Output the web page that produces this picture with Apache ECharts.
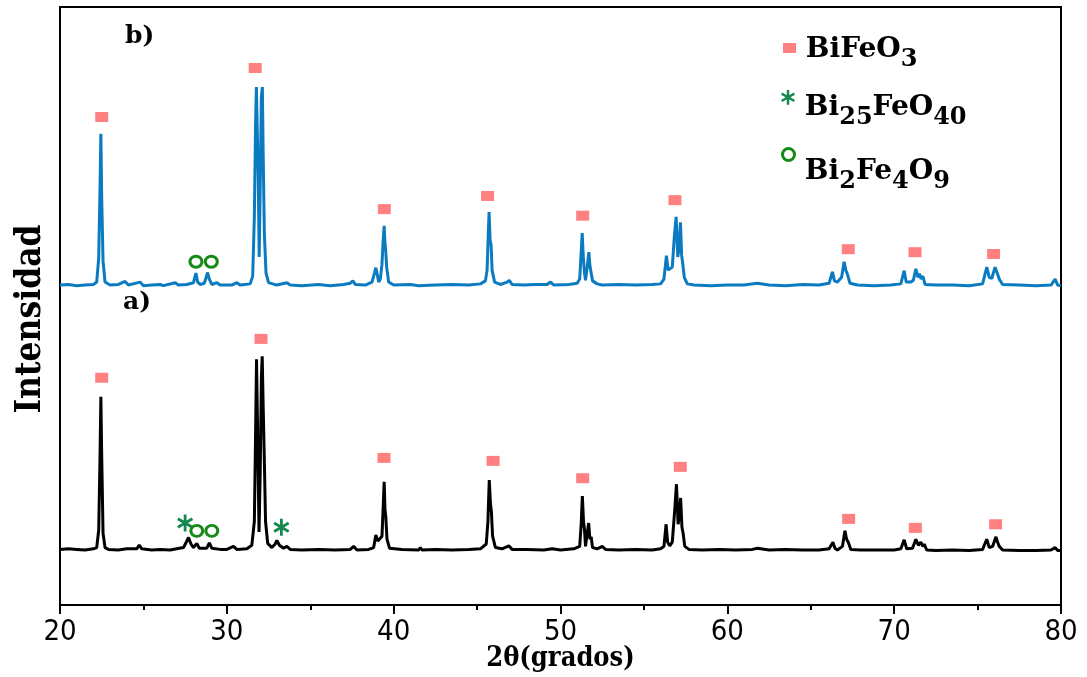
<!DOCTYPE html>
<html>
<head>
<meta charset="utf-8">
<title>DRX BiFeO3</title>
<script src="https://cdn.jsdelivr.net/npm/echarts@6/dist/echarts.min.js"></script>
<style>
  html, body { margin: 0; padding: 0; background: #fff; }
  #chart { width: 1087px; height: 677px; }
</style>
</head>
<body>
<div id="chart"></div>
<script>
// Diffraction pattern a): [2θ, intensity]
const patternA = [
  [20.0, 9.3], [20.5, 9.4], [21.0, 9.3], [21.5, 9.2], [22.0, 9.4], [22.2, 9.6],
  [22.32, 12.5], [22.4, 25.0], [22.45, 34.8], [22.5, 25.0], [22.58, 12.0], [22.7, 9.6],
  [22.9, 9.3], [23.5, 9.2], [24.0, 9.4], [24.6, 9.4], [24.75, 10.0], [24.9, 9.4],
  [25.5, 9.2], [26.0, 9.3], [26.6, 9.2], [27.0, 9.4], [27.4, 9.6], [27.55, 10.4],
  [27.7, 11.3], [27.85, 10.2], [28.0, 9.6], [28.2, 10.3], [28.35, 9.5], [28.8, 9.5],
  [28.95, 10.4], [29.1, 9.5], [29.6, 9.3], [30.0, 9.3], [30.4, 9.8], [30.6, 9.3],
  [31.2, 9.4], [31.5, 10.0], [31.65, 14.0], [31.72, 28.0], [31.78, 41.1], [31.85, 28.0],
  [31.93, 12.2], [32.0, 22.0], [32.07, 38.0], [32.12, 41.6], [32.18, 33.0], [32.24, 25.3],
  [32.32, 14.0], [32.45, 10.3], [32.7, 9.6], [32.9, 10.2], [33.0, 10.8], [33.15, 10.0],
  [33.4, 9.5], [33.6, 9.8], [33.8, 9.3], [34.5, 9.2], [35.5, 9.3], [36.5, 9.2],
  [37.4, 9.3], [37.6, 9.8], [37.8, 9.2], [38.5, 9.3], [38.8, 9.6], [38.93, 11.7],
  [39.05, 10.7], [39.15, 10.4], [39.3, 11.5], [39.38, 17.0], [39.43, 20.6], [39.48, 16.0],
  [39.53, 14.7], [39.6, 11.0], [39.75, 9.5], [40.5, 9.3], [41.5, 9.2], [41.6, 9.6],
  [41.7, 9.2], [42.5, 9.3], [43.5, 9.2], [44.5, 9.3], [45.2, 9.4], [45.55, 10.2],
  [45.65, 14.0], [45.73, 20.9], [45.8, 17.0], [45.86, 15.5], [45.93, 11.5], [46.1, 9.6],
  [46.5, 9.4], [46.9, 9.9], [47.1, 9.3], [48.0, 9.3], [49.0, 9.2], [49.5, 9.4],
  [50.0, 9.2], [50.8, 9.4], [51.15, 9.8], [51.24, 13.5], [51.31, 18.2], [51.38, 14.0],
  [51.44, 12.5], [51.5, 9.8], [51.6, 12.0], [51.69, 13.7], [51.76, 11.0], [51.84, 11.4],
  [51.92, 9.6], [52.2, 9.4], [52.5, 9.8], [52.7, 9.3], [53.5, 9.2], [54.5, 9.3],
  [55.5, 9.2], [56.0, 9.4], [56.2, 9.8], [56.33, 13.5], [56.42, 10.5], [56.55, 9.9],
  [56.7, 10.5], [56.85, 16.0], [56.95, 20.2], [57.05, 13.5], [57.12, 15.0], [57.2, 17.9],
  [57.28, 13.0], [57.35, 12.0], [57.45, 9.8], [57.7, 9.3], [58.5, 9.2], [59.5, 9.3],
  [60.5, 9.2], [61.5, 9.3], [61.8, 9.5], [62.5, 9.2], [63.5, 9.3], [64.5, 9.2],
  [65.5, 9.2], [66.1, 9.4], [66.33, 10.5], [66.45, 9.5], [66.6, 9.2], [66.9, 9.8],
  [67.05, 12.4], [67.15, 11.0], [67.25, 10.5], [67.4, 9.3], [68.0, 9.2], [69.0, 9.2],
  [70.0, 9.2], [70.4, 9.4], [70.6, 10.9], [70.75, 9.4], [71.1, 9.5], [71.3, 11.0],
  [71.45, 10.0], [71.6, 10.5], [71.72, 9.8], [71.8, 10.2], [71.95, 9.2], [72.5, 9.1],
  [73.5, 9.2], [74.5, 9.1], [75.3, 9.3], [75.55, 11.0], [75.7, 9.6], [75.9, 9.8],
  [76.1, 11.4], [76.2, 10.5], [76.3, 9.8], [76.5, 9.2], [77.5, 9.1], [78.5, 9.1],
  [79.4, 9.2], [79.65, 9.6], [79.8, 9.1], [80.0, 9.1]
];

// Diffraction pattern b): [2θ, intensity], stacked above a)
const patternB = [
  [20.0, 53.5], [20.5, 53.6], [21.0, 53.4], [21.5, 53.5], [22.0, 53.6], [22.2, 54.0],
  [22.32, 58.0], [22.4, 70.0], [22.45, 78.8], [22.5, 68.0], [22.58, 57.5], [22.7, 54.0],
  [23.0, 53.5], [23.5, 53.6], [23.9, 54.1], [24.1, 53.5], [24.8, 54.0], [25.0, 53.4],
  [25.5, 53.5], [26.0, 53.6], [26.2, 53.4], [26.9, 53.9], [27.1, 53.5], [27.6, 53.6],
  [28.0, 53.9], [28.15, 55.5], [28.25, 54.0], [28.4, 53.6], [28.65, 53.8], [28.85, 55.6],
  [28.95, 54.5], [29.1, 53.6], [29.4, 53.9], [29.6, 53.5], [30.3, 53.5], [30.6, 53.9],
  [30.8, 53.5], [31.4, 53.7], [31.55, 55.0], [31.65, 65.0], [31.72, 80.0], [31.77, 86.6],
  [31.83, 86.5], [31.88, 72.0], [31.94, 58.2], [32.0, 70.0], [32.07, 85.0], [32.13, 86.6],
  [32.18, 75.0], [32.25, 62.0], [32.35, 55.5], [32.5, 53.9], [33.0, 53.5], [33.6, 53.9],
  [33.8, 53.5], [34.5, 53.4], [35.5, 53.6], [36.2, 53.4], [37.0, 53.6], [37.4, 53.8],
  [37.55, 54.2], [37.7, 53.6], [38.3, 53.5], [38.7, 54.0], [38.85, 55.5], [38.93, 56.4],
  [39.0, 55.5], [39.1, 54.0], [39.2, 54.5], [39.3, 57.0], [39.37, 61.0], [39.43, 63.4],
  [39.48, 60.5], [39.52, 59.4], [39.58, 56.5], [39.7, 54.0], [40.0, 53.5], [41.0, 53.6],
  [41.5, 53.4], [42.5, 53.5], [43.5, 53.6], [44.5, 53.5], [45.2, 53.7], [45.5, 54.2],
  [45.6, 56.0], [45.67, 62.0], [45.72, 65.7], [45.78, 61.0], [45.84, 60.2], [45.9, 56.0],
  [46.05, 54.0], [46.4, 53.6], [46.8, 54.0], [46.93, 54.3], [47.1, 53.6], [47.8, 53.5],
  [48.5, 53.6], [49.2, 53.6], [49.4, 54.0], [49.6, 53.5], [50.5, 53.6], [51.0, 53.8],
  [51.15, 54.5], [51.24, 59.0], [51.3, 62.2], [51.37, 58.0], [51.44, 55.5], [51.5, 54.3],
  [51.6, 56.5], [51.7, 59.0], [51.76, 56.8], [51.84, 56.5], [51.92, 54.2], [52.2, 53.7],
  [52.5, 53.5], [53.5, 53.6], [54.5, 53.5], [55.5, 53.6], [56.0, 53.7], [56.2, 54.5],
  [56.35, 58.4], [56.45, 56.0], [56.52, 55.9], [56.7, 56.5], [56.82, 61.5], [56.93, 64.9],
  [57.03, 58.2], [57.1, 59.5], [57.19, 64.0], [57.26, 58.5], [57.33, 57.0], [57.42, 54.8],
  [57.6, 53.7], [58.0, 53.5], [59.0, 53.4], [60.0, 53.5], [61.0, 53.5], [61.8, 53.8],
  [62.5, 53.5], [63.5, 53.4], [64.5, 53.6], [65.5, 53.5], [66.1, 53.8], [66.3, 55.7],
  [66.42, 54.2], [66.6, 54.0], [66.85, 54.8], [67.0, 57.4], [67.1, 56.0], [67.2, 55.3],
  [67.35, 53.8], [67.8, 53.5], [68.8, 53.4], [69.8, 53.5], [70.4, 53.7], [70.6, 55.9],
  [70.72, 54.0], [71.0, 54.0], [71.15, 54.3], [71.3, 56.2], [71.43, 54.8], [71.52, 55.4],
  [71.62, 54.5], [71.72, 55.0], [71.85, 53.6], [72.5, 53.5], [73.5, 53.5], [74.5, 53.4],
  [75.3, 53.7], [75.55, 56.5], [75.7, 54.8], [75.85, 54.6], [76.05, 56.5], [76.15, 56.2],
  [76.3, 54.5], [76.5, 53.6], [77.5, 53.5], [78.5, 53.4], [79.4, 53.5], [79.65, 54.5],
  [79.8, 53.5], [80.0, 53.4]
];

// Phase markers placed above the reflections
const bifeo3MarksA = [
  [22.5, 38.0], [32.05, 44.5], [39.42, 24.6], [45.96, 24.1], [51.33, 21.2],
  [57.18, 23.1], [67.27, 14.4], [71.27, 12.9], [76.08, 13.5]
];
const bifeo3MarksB = [
  [22.5, 81.6], [31.7, 89.8], [39.44, 66.2], [45.63, 68.4], [51.33, 65.1],
  [56.86, 67.7], [67.25, 59.5], [71.25, 59.0], [75.96, 58.7]
];
const bi25Marks = [[27.5, 13.7], [33.27, 13.0]];
const bi2Fe4Marks = [[28.2, 12.4], [29.1, 12.4], [28.15, 57.4], [29.07, 57.4]];

const xTicks = { min: 20, max: 80, interval: 10 };

const BLUE = '#0b7bc1';
const PINK = '#ff8080';
const TEAL = '#13894f';
const GREEN = '#168a16';
const SERIF = '"DejaVu Serif", serif';
const SERIF_COND = '"DejaVu Serif Condensed", "DejaVu Serif", serif';

// six-armed bold asterisk drawn as three bars
const ASTERISK = 'path://M8.5 1L11.5 1L11.5 19L8.5 19Z' +
  'M17.05 4.2L18.55 6.8L2.95 15.8L1.45 13.2Z' +
  'M2.95 4.2L18.55 13.2L17.05 15.8L1.45 6.8Z';

// rich text for chemical formulas: all tokens hang from the line top,
// pad drops the whole formula below the legend icon, subscripts drop further
function formulaRich(pad) {
  const base = { fontFamily: SERIF, fontWeight: 'bold', color: '#000', verticalAlign: 'top' };
  return {
    g: Object.assign({}, base, { fontSize: 14, padding: [pad, 0, 0, 0] }),
    m: Object.assign({}, base, { fontSize: 28, padding: [pad, 0, 0, 0] }),
    s: Object.assign({}, base, { fontSize: 24, padding: [pad + 12, 0, 0, 0] })
  };
}
const legendText = {
  'BiFeO3': '{g| }{m|BiFeO}{s|3}',
  'Bi25FeO40': '{g| }{m|Bi}{s|25}{m|FeO}{s|40}',
  'Bi2Fe4O9': '{g| }{m|Bi}{s|2}{m|Fe}{s|4}{m|O}{s|9}'
};
function legendAt(name, left, top, w, h, pad) {
  return {
    data: [name], orient: 'vertical', left: left, top: top, padding: 0,
    itemWidth: w, itemHeight: h, selectedMode: false,
    formatter: n => legendText[n],
    textStyle: { rich: formulaRich(pad) }
  };
}

const chart = echarts.init(document.getElementById('chart'), null, { renderer: 'canvas' });
chart.setOption({
  animation: false,
  backgroundColor: '#fff',
  grid: {
    left: 60, right: 26, top: 7, bottom: 72, outerBoundsMode: 'none', containLabel: false,
    show: true, borderColor: '#000', borderWidth: 2, backgroundColor: 'transparent'
  },
  title: [
    { text: 'b)', left: 120, top: 19, textStyle: { fontFamily: SERIF, fontWeight: 'bold', fontSize: 25, color: '#000' } },
    { text: 'a)', left: 118, top: 285, textStyle: { fontFamily: SERIF, fontWeight: 'bold', fontSize: 25, color: '#000' } }
  ],
  legend: [
    legendAt('BiFeO3', 783, 36, 13, 10, 12),
    legendAt('Bi25FeO40', 781, 90, 14, 15, 28),
    Object.assign(legendAt('Bi2Fe4O9', 781, 147, 13, 12, 42),
      { itemStyle: { color: '#fff', borderColor: GREEN, borderWidth: 3 } })
  ],
  xAxis: {
    type: 'value', min: xTicks.min, max: xTicks.max, interval: xTicks.interval,
    name: '2θ(grados)', nameLocation: 'middle', nameGap: 40, nameMoveOverlap: false,
    nameTextStyle: { fontFamily: SERIF_COND, fontWeight: 'bold', fontSize: 27, color: '#000', verticalAlign: 'top' },
    axisLine: { onZero: false, lineStyle: { color: '#000', width: 2 } },
    axisTick: { inside: false, length: 9, lineStyle: { color: '#000', width: 2 } },
    minorTick: { show: true, splitNumber: 2, length: 5, lineStyle: { color: '#000', width: 2 } },
    axisLabel: { color: '#000', fontSize: 29, margin: 13, fontFamily: '"DejaVu Sans Condensed", "Liberation Sans", sans-serif' },
    splitLine: { show: false }
  },
  yAxis: {
    type: 'value', min: 0, max: 100,
    name: 'Intensidad', nameLocation: 'middle', nameRotate: 90, nameGap: 12, nameMoveOverlap: false,
    nameTextStyle: { fontFamily: SERIF_COND, fontWeight: 'bold', fontSize: 35, color: '#000', padding: [0, 26, 0, 0] },
    axisLine: { show: true, lineStyle: { color: '#000', width: 2 } },
    axisTick: { show: false }, axisLabel: { show: false }, splitLine: { show: false }
  },
  series: [
    { name: 'b', type: 'line', data: patternB, showSymbol: false, smooth: false,
      lineStyle: { color: BLUE, width: 3 }, z: 2 },
    { name: 'a', type: 'line', data: patternA, showSymbol: false, smooth: false,
      lineStyle: { color: '#000', width: 3 }, z: 2 },
    { name: 'BiFeO3', type: 'scatter', data: bifeo3MarksB, symbol: 'rect', symbolSize: [13, 10],
      itemStyle: { color: PINK, opacity: 1 }, z: 5 },
    { name: 'BiFeO3', type: 'scatter', data: bifeo3MarksA, symbol: 'rect', symbolSize: [13, 10],
      itemStyle: { color: PINK, opacity: 1 }, z: 5 },
    { name: 'Bi25FeO40', type: 'scatter', data: bi25Marks, symbol: ASTERISK, symbolSize: [16, 17],
      itemStyle: { color: TEAL, opacity: 1 }, z: 5 },
    { name: 'Bi2Fe4O9', type: 'scatter', data: bi2Fe4Marks, symbol: 'circle', symbolSize: [12, 11],
      itemStyle: { color: '#fff', borderColor: GREEN, borderWidth: 3, opacity: 1 }, z: 5 }
  ]
});
</script>
</body>
</html>
